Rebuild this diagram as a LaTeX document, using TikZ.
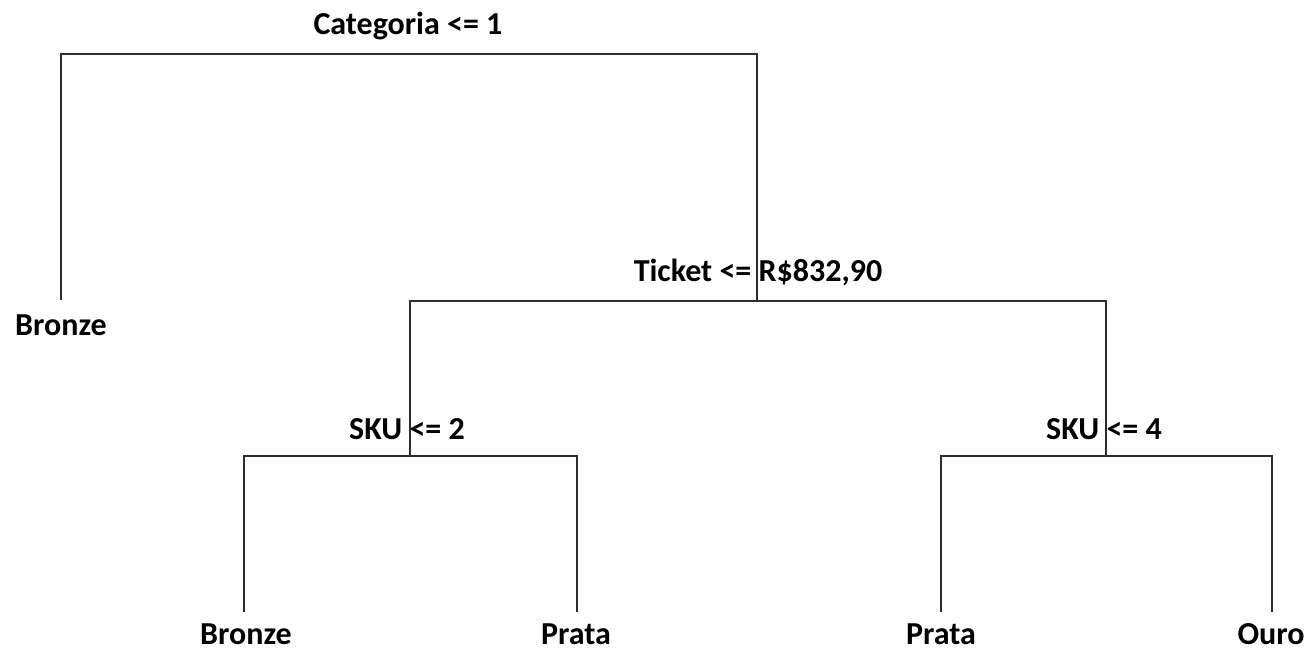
\documentclass[tikz,border=0pt]{standalone}
\usepackage{fontspec}
\setmainfont{Carlito}
\usepackage{xcolor}
\usepackage{tikz}
\definecolor{ramogray}{RGB}{45,45,45}

\tikzset{
  ramo/.style={draw=ramogray, line width=1.4pt},
  rotulo/.style={anchor=base, inner sep=0pt, font=\fontsize{32}{38}\selectfont\bfseries}
}

\begin{document}
\begin{tikzpicture}[x=1pt, y=-1pt]
\useasboundingbox (0,0) rectangle (1309,652);

\node[rotulo] (categoria) at (408,35) {Categoria <= 1};
\node[rotulo] (ticket) at (758,282) {Ticket <= R\$832,90};
\node[rotulo] (sku2) at (407,439) {SKU <= 2};
\node[rotulo] (sku4) at (1104,439) {SKU <= 4};

\node[rotulo] (bronzeA) at (61,335) {Bronze};
\node[rotulo] (bronzeB) at (246,644) {Bronze};
\node[rotulo] (prataA) at (576,644) {Prata};
\node[rotulo] (prataB) at (941,644) {Prata};
\node[rotulo] (ouro) at (1271,644) {Ouro};

\coordinate (raiz) at (410,54);
\coordinate (nTicket) at (757,301);
\coordinate (nSku2) at (410,456);
\coordinate (nSku4) at (1106,456);
\coordinate (fBronzeA) at (61,300);
\coordinate (fBronzeB) at (244,612);
\coordinate (fPrataA) at (577,612);
\coordinate (fPrataB) at (941,612);
\coordinate (fOuro) at (1272,612);

\draw[ramo] (fBronzeA) |- (raiz) -| (nTicket);
\draw[ramo] (nSku2) |- (nTicket) -| (nSku4);
\draw[ramo] (fBronzeB) |- (nSku2) -| (fPrataA);
\draw[ramo] (fPrataB) |- (nSku4) -| (fOuro);
\end{tikzpicture}
\end{document}
